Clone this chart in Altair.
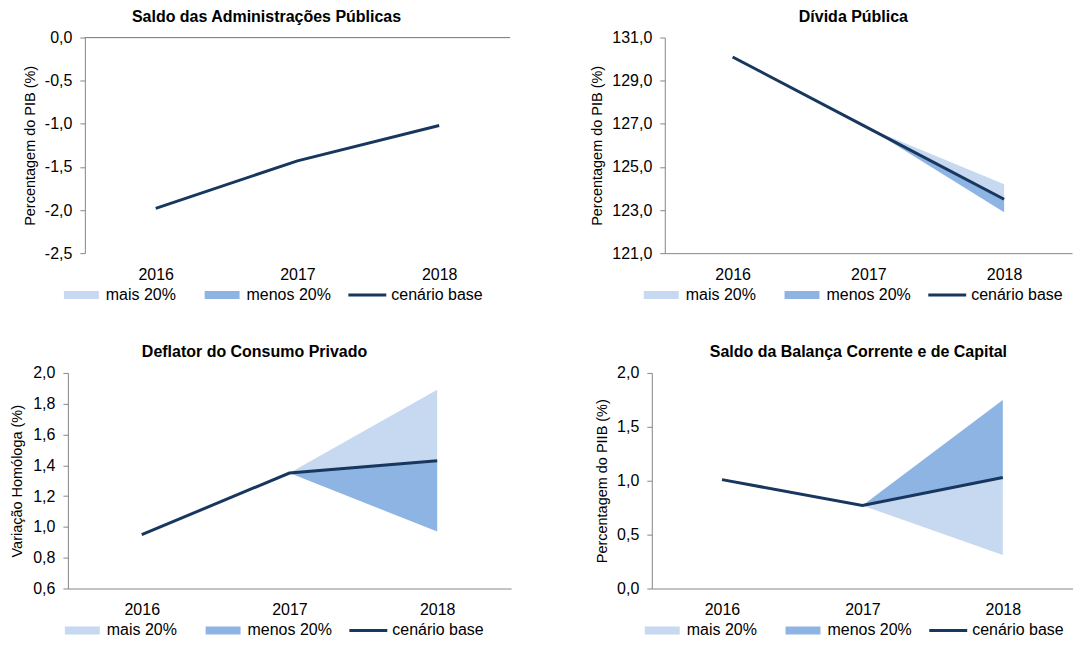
import altair as alt
import pandas as pd

# ---------------- data ----------------
years = ["2016", "2017", "2018"]
area_series = ["mais 20%", "menos 20%"]
base_series = ["cenário base"]
area_colors = ["#C6D9F1", "#8EB4E3"]
base_color = "#17375E"

saldo_base = [-1.98, -1.43, -1.02]

divida_base = [130.1, 126.8, 123.5]
divida_mais = [None, 126.8, 124.2]
divida_menos = [None, 126.8, 122.9]

deflator_base = [0.95, 1.35, 1.43]
deflator_mais = [None, 1.35, 1.89]
deflator_menos = [None, 1.35, 0.97]

balanca_base = [1.01, 0.77, 1.03]
balanca_mais = [None, 0.77, 0.31]
balanca_menos = [None, 0.77, 1.75]

FONT = "Liberation Sans"
GRAY = "#868686"
H = 216

LABEL_EXPR = "(datum.value < 0 ? '-' : '') + replace(format(abs(datum.value), '.1f'), '.', ',')"
RECT = "M-1,-0.8H6V0.8H-1Z"
LINE = "M-1,0H6.6"


def panel(title, title_dx, ytitle, base, mais, menos, ydomain, yvalues,
          width, legend_x, top_line=False, ytitle_pad_lines=False, title_pad=7):
    line_df = pd.DataFrame({"ano": years, "valor": base, "serie": base_series * len(years)})
    rows = []
    for s, vals in (("mais 20%", mais), ("menos 20%", menos)):
        if vals is None:
            continue
        for y, b, v in zip(years, base, vals):
            if v is not None:
                rows.append({"ano": y, "serie": s, "base": b, "valor": v})
    area_df = pd.DataFrame(rows, columns=["ano", "serie", "base", "valor"])

    xscale = alt.Scale(domain=years, padding=0.5)
    yscale = alt.Scale(domain=ydomain, nice=False, zero=False)
    xaxis = alt.Axis(title=None, labelAngle=0, ticks=False, domain=not top_line,
                     domainColor=GRAY, labelFontSize=16, labelColor="black",
                     labelFont=FONT, labelPadding=13, grid=False)
    ytitle_text = ["", ytitle] if ytitle_pad_lines else ytitle
    yaxis = alt.Axis(title=ytitle_text, values=yvalues, labelExpr=LABEL_EXPR,
                     grid=False, domainColor=GRAY, tickColor=GRAY, tickSize=5,
                     labelFontSize=16, labelColor="black", labelFont=FONT,
                     labelPadding=8, titleFontSize=14.5, titleFontWeight="normal",
                     titleColor="black", titleFont=FONT, titlePadding=title_pad,
                     titleLineHeight=13)
    common = dict(orient="none", legendY=H + 34, direction="horizontal", title=None,
                  labelFontSize=16, labelFont=FONT, labelColor="black", symbolSize=100,
                  columnPadding=25, padding=0)
    area_legend = alt.Legend(legendX=legend_x, symbolType=RECT, labelOffset=29,
                             symbolStrokeWidth=0, **common)
    line_legend = alt.Legend(legendX=legend_x + 285, symbolType=LINE, labelOffset=30,
                             symbolStrokeWidth=3, **common)

    area = alt.Chart(area_df).mark_area(opacity=1).encode(
        x=alt.X("ano:N", scale=xscale, axis=xaxis),
        y=alt.Y("base:Q", scale=yscale, axis=yaxis),
        y2="valor:Q",
        color=alt.Color("serie:N", scale=alt.Scale(domain=area_series, range=area_colors),
                        legend=area_legend),
    )
    line = alt.Chart(line_df).mark_line(strokeWidth=3).encode(
        x=alt.X("ano:N", scale=xscale, axis=xaxis),
        y=alt.Y("valor:Q", scale=yscale, axis=yaxis),
        stroke=alt.Stroke("serie:N", scale=alt.Scale(domain=base_series, range=[base_color]),
                          legend=line_legend),
    )
    layers = [area, line]
    if top_line:
        rule = alt.Chart(line_df).mark_rule(color=GRAY, strokeWidth=1).encode(y=alt.datum(0))
        layers = [rule, area, line]
    return alt.layer(*layers).properties(
        width=width, height=H,
        title=alt.TitleParams(title, fontSize=16, fontWeight="bold", font=FONT, color="black",
                              anchor="middle", frame="group", dx=title_dx, offset=5),
    )


tl = panel("Saldo das Administrações Públicas", -31, "Percentagem do PIB (%)",
           saldo_base, None, None, [-2.5, 0], [-2.5, -2.0, -1.5, -1.0, -0.5, 0.0],
           426, -24, top_line=True, ytitle_pad_lines=True)
tr = panel("Dívida Pública", -15, "Percentagem do PIB (%)",
           divida_base, divida_mais, divida_menos, [121, 131], [121, 123, 125, 127, 129, 131],
           408, -24)
bl = panel("Deflator do Consumo Privado", -35, "Variação Homóloga (%)",
           deflator_base, deflator_mais, deflator_menos, [0.6, 2.0],
           [0.6, 0.8, 1.0, 1.2, 1.4, 1.6, 1.8, 2.0], 444, -6, title_pad=8)
br = panel("Saldo da Balança Corrente e de Capital", -4, "Percentagem do PIIB (%)",
           balanca_base, balanca_mais, balanca_menos, [0, 2.0], [0.0, 0.5, 1.0, 1.5, 2.0],
           422, -10)

top = alt.hconcat(tl, tr, spacing=78).resolve_scale(color="independent", stroke="independent")
bottom = alt.hconcat(bl, br, spacing=83).resolve_scale(color="independent", stroke="independent")

# tiny empty cells in the first column so each row is laid out from its own left edge
spacer_df = pd.DataFrame({"v": [0]})
spacer1 = alt.Chart(spacer_df).mark_point(size=0, opacity=0).properties(width=1, height=1)
spacer2 = alt.Chart(spacer_df).mark_point(size=0, opacity=0).properties(width=1, height=1)

chart = alt.concat(spacer1, top, spacer2, bottom, columns=2, align="none",
                   spacing={"row": 41, "column": 0}).resolve_scale(
    color="independent", stroke="independent"
).properties(
    padding={"left": 0, "top": 0, "right": 0, "bottom": 21}, background="white"
).configure(font=FONT).configure_concat(spacing=0).configure_view(stroke=None)

chart.save("out.html", embed_options={"renderer": "svg", "actions": False})
